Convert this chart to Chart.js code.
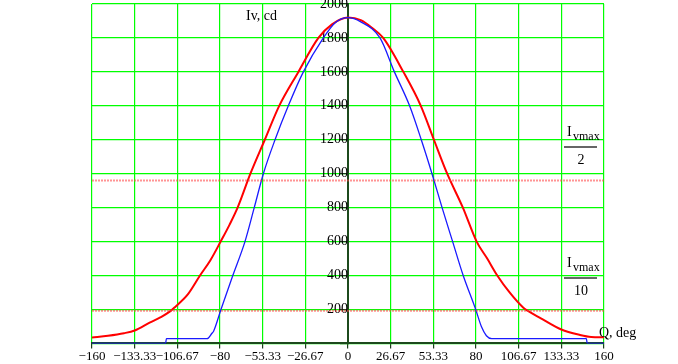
<!DOCTYPE html>
<html>
<head>
<meta charset="utf-8">
<script src="https://cdn.jsdelivr.net/npm/chart.js@4/dist/chart.umd.min.js"></script>
<style>
    body { margin: 0; background: #fff; }
    canvas { display: block; }
</style>
</head>
<body>
<canvas id="ivChart" width="678" height="364"></canvas>
<script>
// Angle ticks (deg) and intensity ticks (cd)
const xTicks = [-160, -133.33, -106.67, -80, -53.33, -26.67, 0, 26.67, 53.33, 80, 106.67, 133.33, 160];
const xTickLabels = ['\u2212160', '\u2212133.33', '\u2212106.67', '\u221280', '\u221253.33', '\u221226.67', '0', '26.67', '53.33', '80', '106.67', '133.33', '160'];
const yStep = 200;

// Red curve (wide beam)
const redAngles = [-160, -150, -140, -133.33, -124, -117, -111, -108, -100, -92.5, -86, -79.6, -74, -69, -61, -52, -43, -31, -18.5, -10, 0, 8, 15, 22, 34.6, 45.5, 53.7, 62, 71.8, 80.4, 87, 93.3, 101, 109.6, 112.7, 120, 133.33, 145, 152, 160];
const redValues = [35, 45, 60, 76, 122, 155, 190, 215, 290, 400, 490, 600, 700, 800, 1000, 1200, 1400, 1600, 1800, 1880, 1920, 1905, 1860, 1800, 1600, 1400, 1200, 1000, 800, 600, 500, 400, 300, 210, 190, 151, 82, 50, 38, 36];

// Blue curve (narrow beam)
const blueAngles = [-160, -114, -113.5, -88, -85, -84, -79.4, -72, -64.4, -58.6, -52.9, -45.6, -37.3, -27.9, -15.4, -8, 0, 8, 20, 29, 38.5, 45.8, 52.5, 58.8, 65.4, 72, 79.8, 83.5, 86.5, 89.8, 149, 149.5, 160];
const blueValues = [0, 0, 28, 28, 60, 72, 200, 400, 600, 800, 1000, 1200, 1400, 1600, 1800, 1890, 1920, 1895, 1800, 1600, 1400, 1200, 1000, 800, 600, 400, 200, 96, 45, 28, 28, 0, 0];

// Ivmax/2 and Ivmax/10 levels
const halfLevel = [960, 960];
const tenthLevel = [192, 192];
const levelAngles = [-160, 160];

const toPoints = (xs, ys) => xs.map((x, i) => ({ x: x, y: ys[i] }));

const serif = '"Liberation Serif", "DejaVu Serif", serif';

// Text labels drawn on top of the plot (axis names, level notes)
const notesPlugin = {
    id: 'notes',
    afterDraw(chart) {
        const c = chart.ctx;
        c.save();
        c.fillStyle = '#000';
        c.font = '14px ' + serif;
        c.textBaseline = 'alphabetic';
        c.textAlign = 'left';
        c.fillText('Iv, cd', 246, 20);
        c.fillText('Q, deg', 599, 337);

        // fraction labels
        const frac = (x, y, den) => {
            c.font = '14px ' + serif;
            c.textAlign = 'left';
            c.fillText('I', x, y);
            c.font = '12px ' + serif;
            c.fillText('vmax', x + 6, y + 4);
            c.strokeStyle = '#333';
            c.lineWidth = 1.5;
            c.beginPath();
            c.moveTo(x - 3, y + 11);
            c.lineTo(x + 30, y + 11);
            c.stroke();
            c.font = '14px ' + serif;
            c.textAlign = 'center';
            c.fillText(den, x + 14, y + 28);
        };
        frac(567, 136, '2');
        frac(567, 267, '10');
        c.restore();
    }
};

function initIvChart() {
    const ctx = document.getElementById('ivChart').getContext('2d');

    new Chart(ctx, {
        type: 'scatter',
        data: {
            datasets: [
                {
                    label: 'Ivmax/2',
                    data: toPoints(levelAngles, halfLevel),
                    showLine: true,
                    borderColor: 'rgba(255, 60, 60, 0.55)',
                    borderWidth: 2,
                    borderDash: [2, 1],
                    pointRadius: 0
                },
                {
                    label: 'Ivmax/10',
                    data: toPoints(levelAngles, tenthLevel),
                    showLine: true,
                    borderColor: 'rgba(255, 60, 60, 0.55)',
                    borderWidth: 2,
                    borderDash: [2, 1],
                    pointRadius: 0
                },
                {
                    label: 'blue',
                    data: toPoints(blueAngles, blueValues),
                    showLine: true,
                    borderColor: '#1a1aff',
                    borderWidth: 1.3,
                    pointRadius: 0,
                    cubicInterpolationMode: 'monotone'
                },
                {
                    label: 'red',
                    data: toPoints(redAngles, redValues),
                    showLine: true,
                    borderColor: '#ff0000',
                    borderWidth: 2,
                    pointRadius: 0,
                    cubicInterpolationMode: 'monotone'
                }
            ]
        },
        options: {
            responsive: false,
            animation: false,
            layout: { padding: { left: 92, right: 74, top: 4, bottom: 0 } },
            plugins: {
                legend: { display: false },
                tooltip: { enabled: false }
            },
            scales: {
                x: {
                    type: 'linear',
                    min: -160,
                    max: 160,
                    afterBuildTicks: (scale) => { scale.ticks = xTicks.map(v => ({ value: v })); },
                    grid: { color: '#00ff00', lineWidth: 1.2, tickColor: '#1c3f1c', tickLength: 5 },
                    border: { color: '#1c4a1c', width: 2 },
                    ticks: {
                        autoSkip: false,
                        maxRotation: 0,
                        padding: 0,
                        color: '#000',
                        font: { family: serif, size: 13 },
                        callback: (v, i) => xTickLabels[i]
                    }
                },
                y: {
                    type: 'linear',
                    position: { x: 0 },
                    min: 0,
                    max: 2000,
                    // let the top label hang over the edge, as in the source
                    afterFit: (scale) => { scale.paddingTop = 0; scale.paddingBottom = 0; },
                    grid: { color: '#00ff00', lineWidth: 1.2, tickColor: '#1c3f1c', tickLength: 7 },
                    border: { color: '#1c4a1c', width: 2 },
                    ticks: {
                        stepSize: yStep,
                        padding: 1,
                        color: '#000',
                        font: { family: serif, size: 14 },
                        callback: (v) => v === 0 ? '' : v
                    }
                }
            }
        },
        plugins: [notesPlugin]
    });
}

initIvChart();
</script>
</body>
</html>
